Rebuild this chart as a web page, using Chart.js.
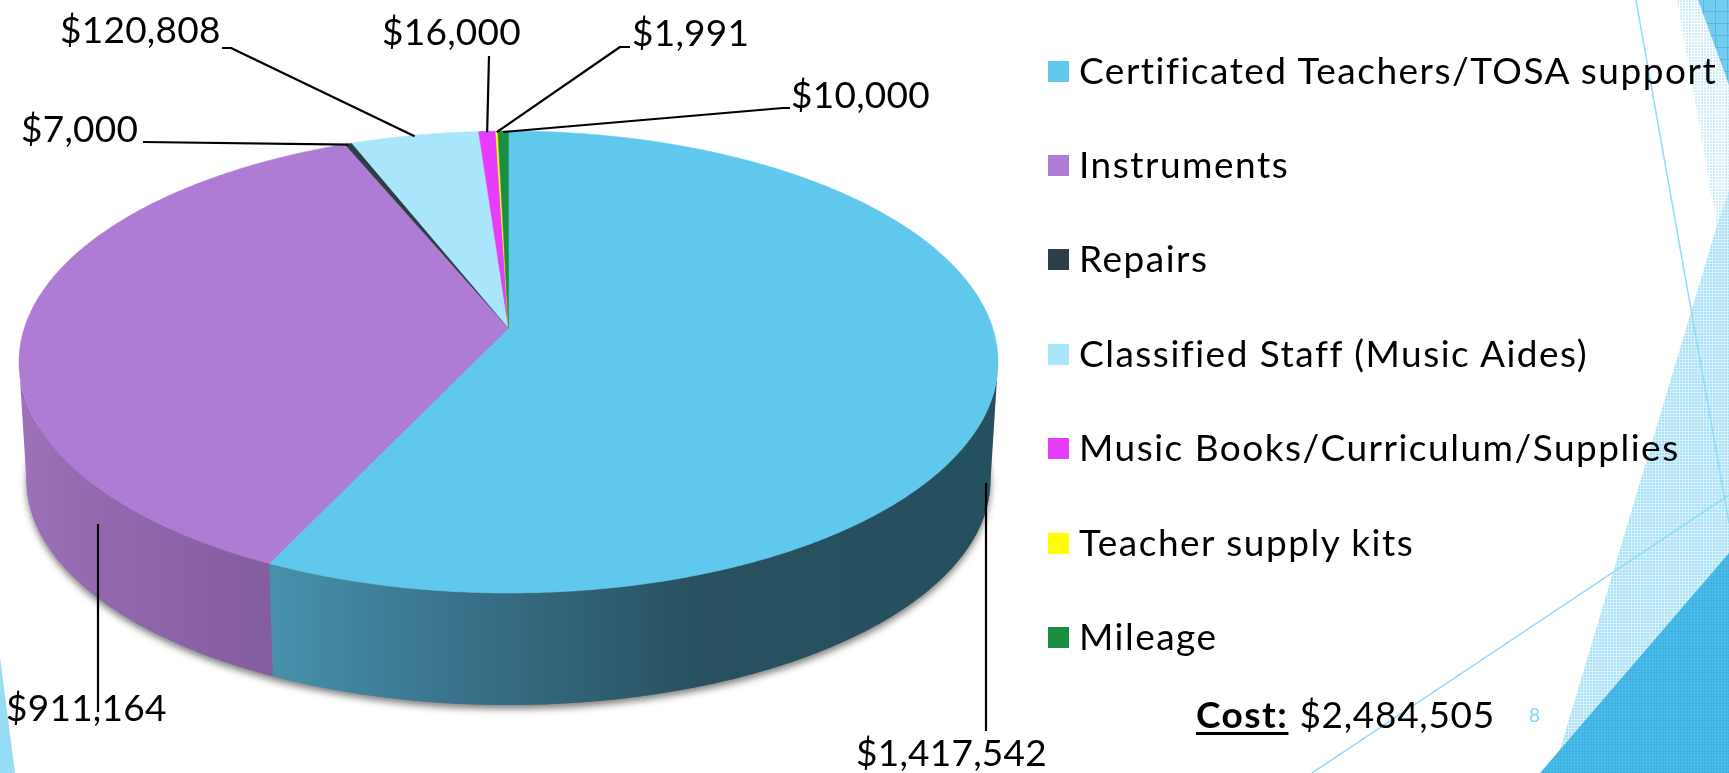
<!DOCTYPE html>
<html>
<head>
<meta charset="utf-8">
<title>Cost breakdown</title>
<script src="https://cdn.jsdelivr.net/npm/chart.js@4/dist/chart.umd.js"></script>
<style>
  html, body { margin: 0; padding: 0; background: #fff; }
  #page { position: relative; width: 1729px; height: 773px; overflow: hidden; font-family: Lato, sans-serif; color: #000; }
  #facets, #pie { position: absolute; left: 0; top: 0; }
  .legend-row { position: absolute; left: 1048px; height: 44px; display: flex; align-items: center; font-size: 37px; letter-spacing: 1.5px; white-space: nowrap; }
  .legend-row span:last-child { position: relative; top: -2px; }
  .legend-box { width: 21px; height: 21px; margin-right: 10px; flex: none; }
  #cost { position: absolute; left: 1196px; top: 689px; font-size: 37px; letter-spacing: 0.7px; white-space: nowrap; line-height: 50px; }
  #cost b { letter-spacing: 1.5px; text-decoration: underline; text-decoration-thickness: 3px; text-underline-offset: 4px; margin-right: 11px; }
  #page-number { position: absolute; left: 1529px; top: 703px; font-size: 19px; color: #7fd4f4; }
</style>
</head>
<body>
<div id="page">
  <svg id="facets" width="1729" height="773">
    <defs>
      <pattern id="dotPale" width="3" height="3" patternUnits="userSpaceOnUse">
        <rect width="3" height="3" fill="#fff"/><rect width="2" height="2" fill="#cdedfa"/>
      </pattern>
      <pattern id="dotMid" width="3" height="3" patternUnits="userSpaceOnUse">
        <rect width="3" height="3" fill="#d6f1fb"/><rect width="2" height="2" fill="#a8e0f6"/>
      </pattern>
      <pattern id="dotDeep" width="3" height="3" patternUnits="userSpaceOnUse">
        <rect width="3" height="3" fill="#4dbbe8"/><rect width="2" height="2" fill="#3bb2e3"/>
      </pattern>
      <pattern id="gridTop" width="12" height="12" patternUnits="userSpaceOnUse">
        <rect width="12" height="12" fill="#74ccee"/><rect x="11" width="1" height="12" fill="#4fb8e6"/><rect y="11" width="12" height="1" fill="#4fb8e6"/>
      </pattern>
    </defs>
    <polygon points="1677,0 1729,0 1729,190 1717,225" fill="url(#dotPale)"/>
    <polygon points="1729,190 1717,225 1553,773 1729,773" fill="url(#dotMid)"/>
    <polygon points="1698,0 1729,0 1729,85" fill="url(#gridTop)"/>
    <polygon points="1729,553 1729,773 1540,773" fill="url(#dotDeep)"/>
    <line x1="1636" y1="0" x2="1729" y2="523" stroke="#8fdcf6" stroke-width="1.5"/>
    <line x1="1312" y1="773" x2="1729" y2="495" stroke="#8fdcf6" stroke-width="1.5"/>
    <polygon points="0,657 15,773 0,773" fill="#96dcf5"/>
  </svg>
  <canvas id="pie" width="1729" height="773"></canvas>
  <div id="legend"></div>
  <div id="cost"><b>Cost:</b>$2,484,505</div>
  <div id="page-number">8</div>
</div>

<script>
const categories = [
  'Certificated Teachers/TOSA support',
  'Instruments',
  'Repairs',
  'Classified Staff (Music Aides)',
  'Music Books/Curriculum/Supplies',
  'Teacher supply kits',
  'Mileage'
];
const costs = [1417542, 911164, 7000, 120808, 16000, 1991, 10000];
const sliceColors = ['#5fc8ec', '#ae7cd4', '#2d3e48', '#a9e5fb', '#e63cfb', '#ffff00', '#1a8f42'];

// side wall shading, only the two big slices show a wall
const wallShades = [
  [[272, '#4691ac'], [450, '#3a738c'], [560, '#326478'], [700, '#285061'], [990, '#255060']],
  [[25, '#9b71b8'], [100, '#9368af'], [272, '#845ca0']]
];

// where each value label sits: text left, baseline, then the leader line points
const callouts = [
  { x: 856, y: 766, line: [[986, 731], [986, 483]] },
  { x: 6, y: 721, line: [[98, 712], [98, 524]] },
  { x: 21, y: 142, line: [[143, 142]], toSlice: true },
  { x: 60, y: 43, line: [[222, 48], [231, 48]], toSlice: true },
  { x: 382, y: 45, line: [[489, 56]], toSlice: true },
  { x: 632, y: 46, line: [[630, 47], [620, 47]], toSlice: true },
  { x: 791, y: 108, line: [[790, 108], [783, 108]], toSlice: true }
];

const topRim = { cx: 508.5, cy: 362, rx: 489.5, ry: 231 };
const bottomRim = { cx: 508.5, cy: 480, rx: 482, ry: 225 };
const tilt = 0.147; // apex sits above the centre of the ellipse, perspective

// circle angle to a point on the ellipse, keeps the rim an ellipse but moves the apex
function unit(angle, r) {
  const u = Math.cos(angle) * r, v = Math.sin(angle) * r;
  const d = 1 - tilt * v;
  return { x: u * Math.sqrt(1 - tilt * tilt) / d, y: (v - tilt) / d };
}
function onRim(rim, angle, r = 1) {
  const p = unit(angle, r);
  return { x: rim.cx + p.x * rim.rx, y: rim.cy + p.y * rim.ry };
}
function sampleAngles(start, end) {
  const steps = Math.max(4, Math.ceil((end - start) * 120));
  const out = [];
  for (let i = 0; i <= steps; i++) out.push(start + (end - start) * i / steps);
  return out;
}

function drawWall(ctx, arc, stops) {
  const front = sampleAngles(arc.startAngle, arc.endAngle).filter(a => unit(a, 1).y >= 0);
  if (!front.length) return;
  ctx.beginPath();
  front.forEach((a, i) => {
    const p = onRim(topRim, a);
    i ? ctx.lineTo(p.x, p.y) : ctx.moveTo(p.x, p.y);
  });
  front.slice().reverse().forEach(a => {
    const p = onRim(bottomRim, a);
    ctx.lineTo(p.x, p.y);
  });
  ctx.closePath();
  const grad = ctx.createLinearGradient(stops[0][0], 0, stops[stops.length - 1][0], 0);
  const span = stops[stops.length - 1][0] - stops[0][0];
  stops.forEach(s => grad.addColorStop((s[0] - stops[0][0]) / span, s[1]));
  ctx.fillStyle = grad;
  ctx.fill();
}

function drawTop(ctx, arc, color) {
  const apex = onRim(topRim, 0, 0);
  ctx.beginPath();
  ctx.moveTo(apex.x, apex.y);
  sampleAngles(arc.startAngle, arc.endAngle).forEach(a => {
    const p = onRim(topRim, a);
    ctx.lineTo(p.x, p.y);
  });
  ctx.closePath();
  ctx.fillStyle = color;
  ctx.strokeStyle = color;
  ctx.lineWidth = 0.5;
  ctx.fill();
  ctx.stroke();
}

// pie is drawn from the arc elements chart.js worked out, only the projection is ours
const tiltedPie = {
  id: 'tiltedPie',
  beforeDatasetsDraw(chart) {
    const ctx = chart.ctx;
    const arcs = chart.getDatasetMeta(0).data;
    ctx.save();

    ctx.save();
    ctx.shadowColor = 'rgba(60,60,60,0.65)';
    ctx.shadowBlur = 7;
    ctx.shadowOffsetY = 4;
    ctx.fillStyle = '#777';
    ctx.beginPath();
    ctx.ellipse(bottomRim.cx, bottomRim.cy, bottomRim.rx, bottomRim.ry, 0, 0, Math.PI * 2);
    ctx.fill();
    ctx.restore();

    wallShades.forEach((stops, i) => drawWall(ctx, arcs[i], stops));
    arcs.forEach((arc, i) => drawTop(ctx, arc, sliceColors[i]));

    ctx.strokeStyle = '#000';
    ctx.lineJoin = 'round';
    ctx.fillStyle = '#000';
    ctx.font = '37px Lato, sans-serif';
    ctx.letterSpacing = '0.25px';
    ctx.textBaseline = 'alphabetic';
    arcs.forEach((arc, i) => {
      const c = callouts[i];
      const pts = c.line.slice();
      if (c.toSlice) {
        const p = onRim(topRim, (arc.startAngle + arc.endAngle) / 2);
        pts.push([p.x, p.y + 1]);
      }
      ctx.lineWidth = 2.2;
      ctx.beginPath();
      pts.forEach((p, j) => (j ? ctx.lineTo(p[0], p[1]) : ctx.moveTo(p[0], p[1])));
      ctx.stroke();
      ctx.fillText('$' + costs[i].toLocaleString('en-US'), c.x, c.y);
    });

    ctx.restore();
    return false;
  }
};

new Chart(document.getElementById('pie'), {
  type: 'pie',
  data: {
    labels: categories,
    datasets: [{ data: costs, backgroundColor: sliceColors, borderWidth: 0 }]
  },
  options: {
    responsive: false,
    animation: false,
    plugins: {
      legend: { display: false },
      tooltip: { enabled: false }
    }
  },
  plugins: [tiltedPie]
});

// legend rows are plain html so the gaps can follow the slide
const legendEl = document.getElementById('legend');
categories.forEach((name, i) => {
  const row = document.createElement('div');
  row.className = 'legend-row';
  row.style.top = (49 + i * 94.4) + 'px';
  const box = document.createElement('span');
  box.className = 'legend-box';
  box.style.background = sliceColors[i];
  row.appendChild(box);
  const label = document.createElement('span');
  label.textContent = name;
  row.appendChild(label);
  legendEl.appendChild(row);
});
</script>
</body>
</html>
